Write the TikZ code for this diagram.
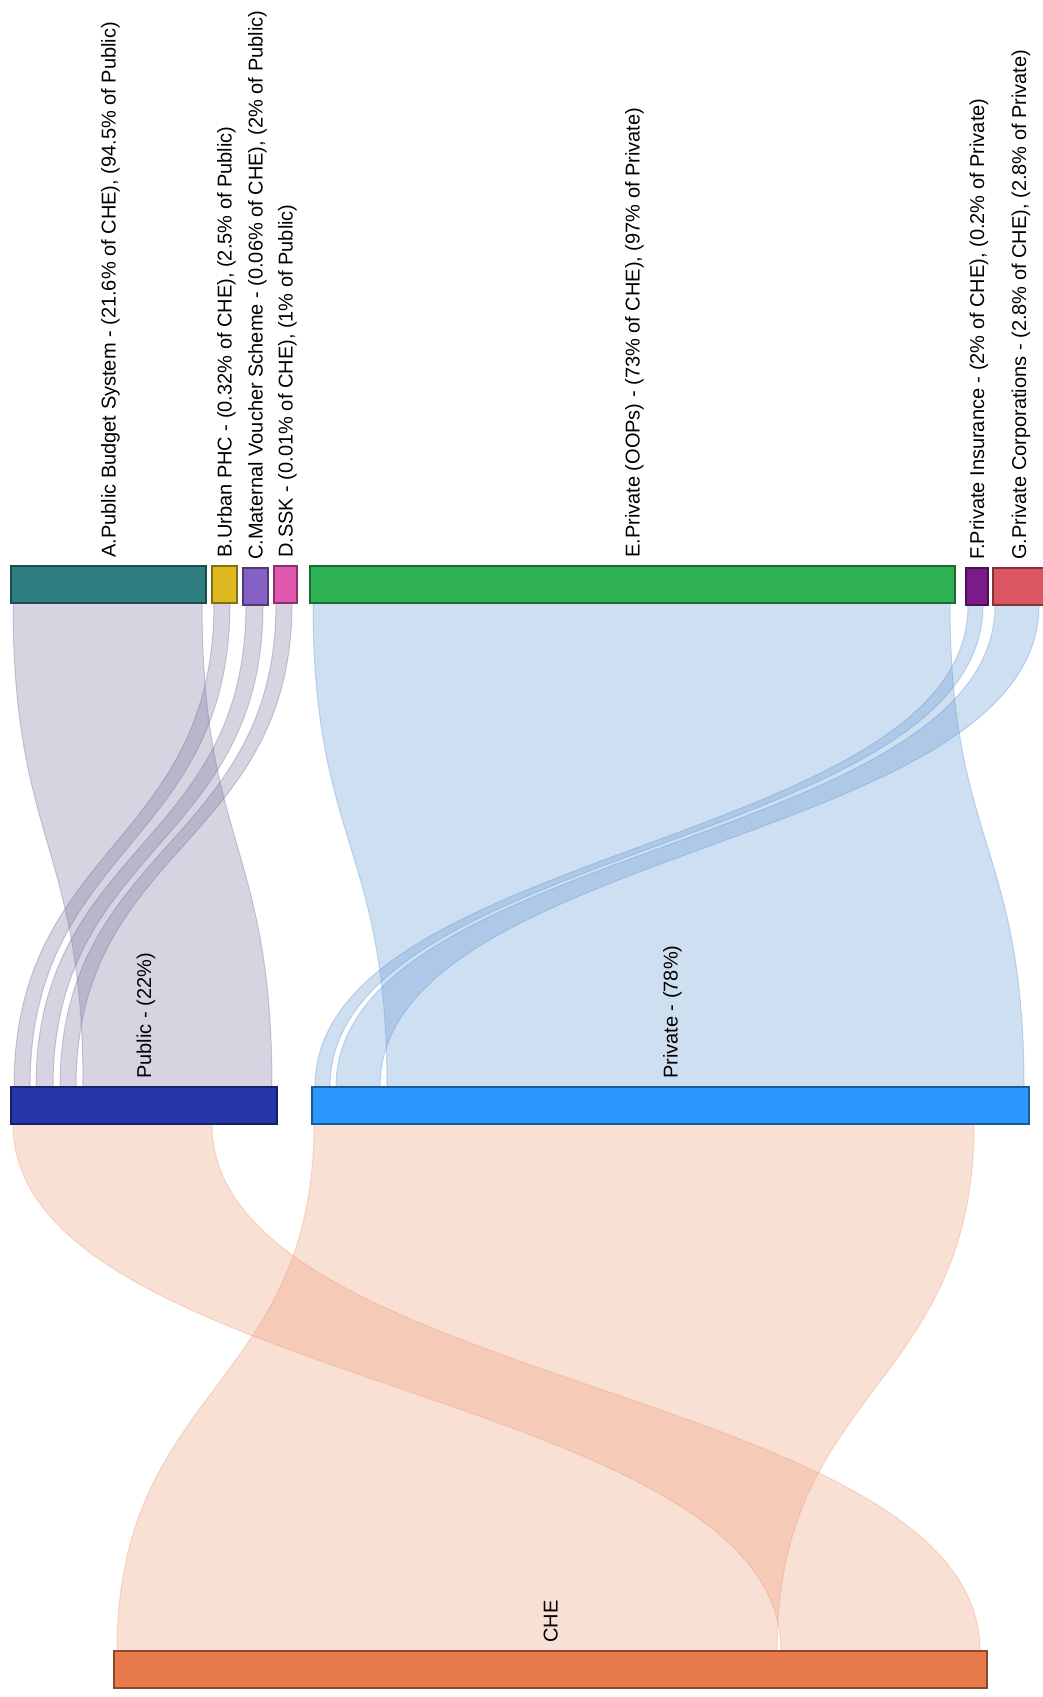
\documentclass[tikz,border=0pt]{standalone}
\usepackage{fontspec}
\setmainfont{Liberation Sans}
\usetikzlibrary{calc,backgrounds}
\definecolor{colA}{RGB}{47,127,130}
\definecolor{colB}{RGB}{221,185,31}
\definecolor{colC}{RGB}{133,96,197}
\definecolor{colD}{RGB}{225,87,173}
\definecolor{colE}{RGB}{47,178,84}
\definecolor{colF}{RGB}{123,26,137}
\definecolor{colG}{RGB}{219,86,97}
\definecolor{colPub}{RGB}{37,54,168}
\definecolor{colPriv}{RGB}{41,151,252}
\definecolor{colChe}{RGB}{231,123,75}
\definecolor{pubLink}{RGB}{125,112,158}
\definecolor{privLink}{RGB}{98,152,212}
\definecolor{cheLink}{RGB}{238,155,118}
\tikzset{bar/.style={rectangle,anchor=north west,inner sep=0pt,outer sep=0pt,minimum height=37pt,line width=1.2pt,fill=#1,draw=#1!60!black},
  lbl/.style={rotate=90,anchor=base west,inner sep=0pt,font=\fontsize{20}{24}\selectfont},
  band/.style={fill=#1,draw=#1,fill opacity=0.3,draw opacity=0.35,line width=1pt}}
\newcommand{\flow}[4]{%
  \path[band=#1] let \p1=(#2), \p2=(#3) in
    (\p1) .. controls (\x1,{0.5*(\y1+\y2)}) and (\x2,{0.5*(\y1+\y2)}) .. (\p2)
    -- ({\x2+#4pt},\y2) .. controls ({\x2+#4pt},{0.5*(\y1+\y2)}) and ({\x1+#4pt},{0.5*(\y1+\y2)}) .. ({\x1+#4pt},\y1) -- cycle;}

\begin{document}
\begin{tikzpicture}[x=1pt,y=-1pt]
    \useasboundingbox (0,0) rectangle (1043,1697);
    \clip (0,0) rectangle (1043,1697);

    \node[bar=colA,minimum width=195pt] (A) at (11,566) {};
    \node[bar=colB,minimum width=25pt] (B) at (212,566) {};
    \node[bar=colC,minimum width=25pt] (C) at (243,568) {};
    \node[bar=colD,minimum width=23pt] (D) at (274,566) {};
    \node[bar=colE,minimum width=645pt] (E) at (310,566) {};
    \node[bar=colF,minimum width=22pt] (F) at (966,568) {};
    \node[bar=colG,minimum width=52pt] (G) at (993,568) {};
    \node[bar=colPub,minimum width=266pt] (pub) at (11,1087) {};
    \node[bar=colPriv,minimum width=717pt] (priv) at (312,1087) {};
    \node[bar=colChe,minimum width=873pt] (che) at (114,1651) {};

    \node[lbl] (labA) at ([xshift=7pt,yshift=8pt]A.north) {A.Public Budget System - (21.6\% of CHE), (94.5\% of Public)};
    \node[lbl] (labB) at ([xshift=7pt,yshift=8pt]B.north) {B.Urban PHC - (0.32\% of CHE), (2.5\% of Public)};
    \node[lbl] (labC) at ([xshift=7pt,yshift=8pt]C.north) {C.Maternal Voucher Scheme - (0.06\% of CHE), (2\% of Public)};
    \node[lbl] (labD) at ([xshift=7pt,yshift=8pt]D.north) {D.SSK - (0.01\% of CHE), (1\% of Public)};
    \node[lbl] (labE) at ([xshift=7pt,yshift=8pt]E.north) {E.Private (OOPs) - (73\% of CHE), (97\% of Private)};
    \node[lbl] (labF) at ([xshift=7pt,yshift=8pt]F.north) {F.Private Insurance - (2\% of CHE), (0.2\% of Private)};
    \node[lbl] (labG) at ([xshift=7pt,yshift=8pt]G.north) {G.Private Corporations - (2.8\% of CHE), (2.8\% of Private)};
    \node[lbl] (labPub) at ([xshift=7pt,yshift=8pt]pub.north) {Public - (22\%)};
    \node[lbl] (labPriv) at ([xshift=7pt,yshift=8pt]priv.north) {Private - (78\%)};
    \node[lbl] (labChe) at ([xshift=7pt,yshift=8pt]che.north) {CHE};

    \begin{pgfonlayer}{background}
    \fill[white] (0,0) rectangle (1043,1697);
    \flow{pubLink}{[xshift=2pt]A.south west}{[xshift=72pt]pub.north west}{189}
    \flow{pubLink}{[xshift=2pt]B.south west}{[xshift=3pt]pub.north west}{16}
    \flow{pubLink}{[xshift=3pt]C.south west}{[xshift=25pt]pub.north west}{17}
    \flow{pubLink}{[xshift=2pt]D.south west}{[xshift=49pt]pub.north west}{16}
    \flow{privLink}{[xshift=3pt]E.south west}{[xshift=75pt]priv.north west}{637}
    \flow{privLink}{[xshift=2pt]F.south west}{[xshift=3pt]priv.north west}{15}
    \flow{privLink}{[xshift=2pt]G.south west}{[xshift=24pt]priv.north west}{44}
    \flow{cheLink}{[xshift=2pt]pub.south west}{[xshift=667pt]che.north west}{199}
    \flow{cheLink}{[xshift=2pt]priv.south west}{[xshift=3pt]che.north west}{660}
    \end{pgfonlayer}
\end{tikzpicture}
\end{document}
